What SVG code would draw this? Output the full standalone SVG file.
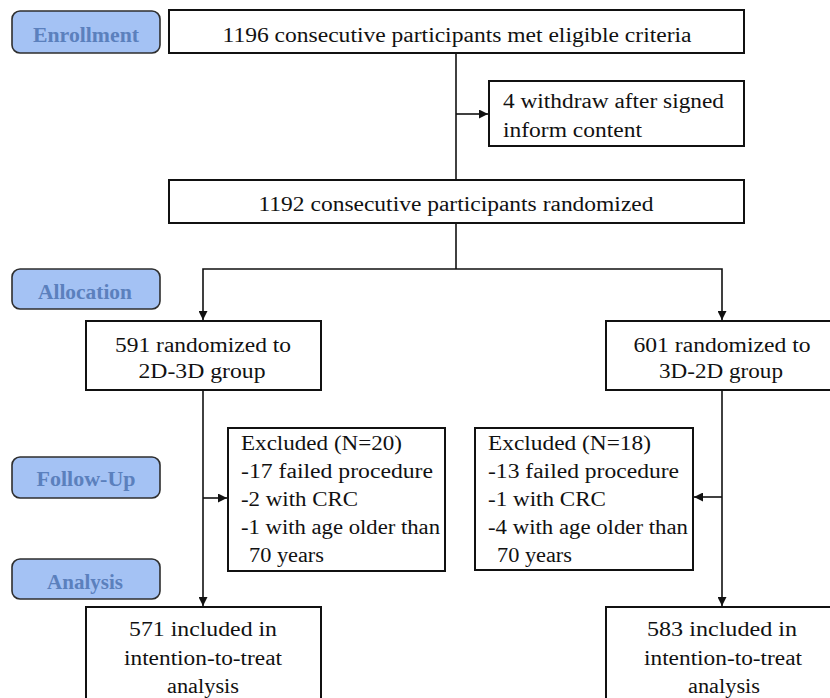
<svg xmlns="http://www.w3.org/2000/svg" width="830" height="698" viewBox="0 0 830 698" font-family="'Liberation Serif', 'Times New Roman', Times, 'DejaVu Serif', serif">
<style>
.box{fill:#fff;stroke:#111;stroke-width:2}
.lbl{fill:#a4c2f4;stroke:#2e2e2e;stroke-width:1.6}
.lt{font-family:'Liberation Serif','Times New Roman',Times,serif;font-weight:bold;font-size:21px;fill:#5b80bd;text-anchor:middle}
.t{font-family:'Liberation Serif','Times New Roman',Times,serif;font-size:20px;fill:#111}
.c{text-anchor:middle}
.ln{fill:none;stroke:#111;stroke-width:1.6}
</style>
<defs>
<marker id="ah" viewBox="0 0 10 10" refX="10" refY="5" markerUnits="userSpaceOnUse" markerWidth="10" markerHeight="9" orient="auto">
<path d="M0,0 L10,5 L0,10 z" fill="#111"/>
</marker>
</defs>
<g id="connectors">
<path class="ln" d="M456,53 V180"/>
<path class="ln" d="M456,114 H488" marker-end="url(#ah)"/>
<path class="ln" d="M456,223 V269"/>
<path class="ln" d="M456,269 H203 V320" marker-end="url(#ah)"/>
<path class="ln" d="M456,269 H722 V320" marker-end="url(#ah)"/>
<path class="ln" d="M203,390 V606" marker-end="url(#ah)"/>
<path class="ln" d="M203,498 H227" marker-end="url(#ah)"/>
<path class="ln" d="M722,390 V606" marker-end="url(#ah)"/>
<path class="ln" d="M722,497 H694" marker-end="url(#ah)"/>
</g>
<g id="label-enrollment">
<rect class="lbl" x="12" y="11" width="148" height="42" rx="8"/>
<text class="lt" x="86" y="42" textLength="106" lengthAdjust="spacingAndGlyphs">Enrollment</text>
</g>
<g id="label-allocation">
<rect class="lbl" x="12" y="269" width="148" height="40" rx="8"/>
<text class="lt" x="85" y="299" textLength="94" lengthAdjust="spacingAndGlyphs">Allocation</text>
</g>
<g id="label-followup">
<rect class="lbl" x="12" y="457" width="148" height="41" rx="8"/>
<text class="lt" x="86" y="486" textLength="99" lengthAdjust="spacingAndGlyphs">Follow-Up</text>
</g>
<g id="label-analysis">
<rect class="lbl" x="12" y="559" width="148" height="40" rx="8"/>
<text class="lt" x="85" y="589" textLength="76" lengthAdjust="spacingAndGlyphs">Analysis</text>
</g>
<g id="node-eligible">
<rect class="box" x="169" y="10" width="575" height="43"/>
<text class="t c" x="457" y="42" textLength="469" lengthAdjust="spacingAndGlyphs">1196 consecutive participants met eligible criteria</text>
</g>
<g id="node-withdraw">
<rect class="box" x="489" y="81" width="255" height="65"/>
<text class="t" x="503" y="108" textLength="221" lengthAdjust="spacingAndGlyphs">4 withdraw after signed</text>
<text class="t" x="503" y="137" textLength="139" lengthAdjust="spacingAndGlyphs">inform content</text>
</g>
<g id="node-randomized">
<rect class="box" x="169" y="180" width="575" height="43"/>
<text class="t c" x="456" y="211" textLength="395" lengthAdjust="spacingAndGlyphs">1192 consecutive participants randomized</text>
</g>
<g id="node-2d3d">
<rect class="box" x="86" y="321" width="235" height="69"/>
<text class="t c" x="203" y="352" textLength="176" lengthAdjust="spacingAndGlyphs">591 randomized to</text>
<text class="t c" x="202" y="378" textLength="127" lengthAdjust="spacingAndGlyphs">2D-3D group</text>
</g>
<g id="node-3d2d">
<rect class="box" x="606" y="321" width="235" height="69"/>
<text class="t c" x="722" y="352" textLength="177" lengthAdjust="spacingAndGlyphs">601 randomized to</text>
<text class="t c" x="721" y="378" textLength="124" lengthAdjust="spacingAndGlyphs">3D-2D group</text>
</g>
<g id="node-excl-left">
<rect class="box" x="228" y="428" width="217" height="143"/>
<text class="t" x="241" y="450" textLength="161" lengthAdjust="spacingAndGlyphs">Excluded (N=20)</text>
<text class="t" x="241" y="478" textLength="192" lengthAdjust="spacingAndGlyphs">-17 failed procedure</text>
<text class="t" x="241" y="506" textLength="117" lengthAdjust="spacingAndGlyphs">-2 with CRC</text>
<text class="t" x="241" y="534" textLength="199" lengthAdjust="spacingAndGlyphs">-1 with age older than</text>
<text class="t" x="249" y="562" textLength="75" lengthAdjust="spacingAndGlyphs">70 years</text>
</g>
<g id="node-excl-right">
<rect class="box" x="475" y="428" width="218" height="142"/>
<text class="t" x="488" y="450" textLength="163" lengthAdjust="spacingAndGlyphs">Excluded (N=18)</text>
<text class="t" x="488" y="478" textLength="191" lengthAdjust="spacingAndGlyphs">-13 failed procedure</text>
<text class="t" x="488" y="506" textLength="118" lengthAdjust="spacingAndGlyphs">-1 with CRC</text>
<text class="t" x="488" y="534" textLength="200" lengthAdjust="spacingAndGlyphs">-4 with age older than</text>
<text class="t" x="497" y="562" textLength="75" lengthAdjust="spacingAndGlyphs">70 years</text>
</g>
<g id="node-itt-left">
<rect class="box" x="86" y="607" width="235" height="100"/>
<text class="t c" x="203" y="636" textLength="148" lengthAdjust="spacingAndGlyphs">571 included in</text>
<text class="t c" x="203" y="665" textLength="158" lengthAdjust="spacingAndGlyphs">intention-to-treat</text>
<text class="t c" x="203" y="693" textLength="72" lengthAdjust="spacingAndGlyphs">analysis</text>
</g>
<g id="node-itt-right">
<rect class="box" x="606" y="607" width="235" height="100"/>
<text class="t c" x="722" y="636" textLength="150" lengthAdjust="spacingAndGlyphs">583 included in</text>
<text class="t c" x="723" y="665" textLength="158" lengthAdjust="spacingAndGlyphs">intention-to-treat</text>
<text class="t c" x="724" y="693" textLength="72" lengthAdjust="spacingAndGlyphs">analysis</text>
</g>
</svg>
